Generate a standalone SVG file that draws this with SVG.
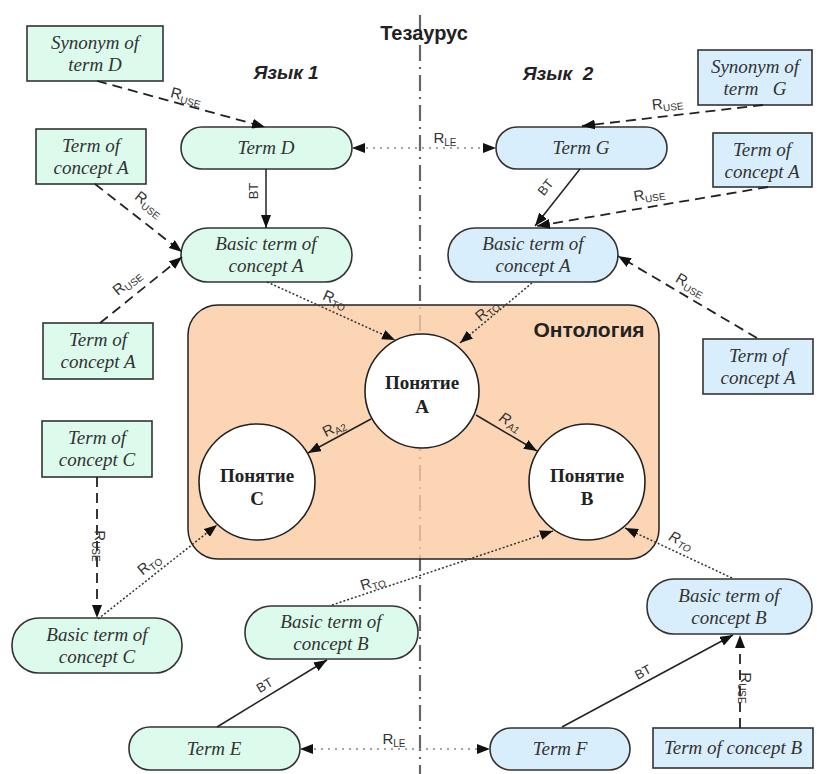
<svg xmlns="http://www.w3.org/2000/svg" width="817" height="774" viewBox="0 0 817 774">
<style>
.g{fill:#dcfbec;stroke:#333;stroke-width:1.6}
.b{fill:#d9eefc;stroke:#333;stroke-width:1.6}
.nt{font-family:"Liberation Serif",serif;font-style:italic;font-size:19px;fill:#333;text-anchor:middle}
.ct{font-family:"Liberation Serif",serif;font-weight:bold;font-size:19px;fill:#222;text-anchor:middle}
.circ{fill:#fff;stroke:#222;stroke-width:1.6}
.lbl{font-family:"Liberation Sans",sans-serif;font-size:15px;fill:#333;text-anchor:middle}
.sub{font-size:10px}
.bt{font-family:"Liberation Sans",sans-serif;font-size:13px;fill:#333;text-anchor:middle}
.title{font-family:"Liberation Sans",sans-serif;font-weight:bold;fill:#222;text-anchor:middle}
.solid{stroke:#222;stroke-width:1.5;fill:none;marker-end:url(#ah)}
.dash{stroke:#222;stroke-width:1.8;fill:none;stroke-dasharray:10 6;marker-end:url(#ah)}
.dot{stroke:#333;stroke-width:1.5;fill:none;stroke-dasharray:2 2;marker-end:url(#ah)}
.le{stroke:#888;stroke-width:1.6;fill:none;stroke-dasharray:2 5;marker-end:url(#ah);marker-start:url(#ahs)}
</style>
<defs>
<marker id="ah" markerUnits="userSpaceOnUse" markerWidth="13" markerHeight="10" refX="13" refY="5" orient="auto"><path d="M0,0 L13,5 L0,10 z" fill="#111"/></marker>
<marker id="ahs" markerUnits="userSpaceOnUse" markerWidth="13" markerHeight="10" refX="13" refY="5" orient="auto-start-reverse"><path d="M0,0 L13,5 L0,10 z" fill="#111"/></marker>
</defs>
<rect width="817" height="774" fill="#fff"/>

<line x1="420" y1="15" x2="420" y2="774" stroke="#666" stroke-width="2.2" stroke-dasharray="16 6 2 6"/>

<g id="ontology">
<rect x="188" y="305" width="471" height="254" rx="30" fill="#fbcca1" fill-opacity="0.8" stroke="#222" stroke-width="1.5"/>
<text class="title" x="589" y="337" font-size="21">Онтология</text>
</g>

<text class="title" x="424" y="40" font-size="20">Тезаурус</text>
<text class="title" x="286" y="79" font-size="19" font-style="italic">Язык 1</text>
<text class="title" x="558" y="80" font-size="19" font-style="italic" xml:space="preserve">Язык  2</text>

<g id="conceptA"><circle class="circ" cx="422" cy="391" r="57"/><text class="ct" x="422" y="389">Понятие</text><text class="ct" x="422" y="413">A</text></g>
<g id="conceptC"><circle class="circ" cx="257" cy="482" r="58"/><text class="ct" x="257" y="482">Понятие</text><text class="ct" x="257" y="505">C</text></g>
<g id="conceptB"><circle class="circ" cx="587" cy="482" r="58"/><text class="ct" x="587" y="482">Понятие</text><text class="ct" x="587" y="505">B</text></g>

<g id="synD"><rect class="g" x="27" y="26" width="136" height="55"/><text class="nt" x="95" y="49">Synonym of</text><text class="nt" x="95" y="71">term D</text></g>
<g id="termA1"><rect class="g" x="36" y="129" width="110" height="55"/><text class="nt" x="91" y="152">Term of</text><text class="nt" x="91" y="174">concept A</text></g>
<g id="termA2"><rect class="g" x="43" y="323" width="110" height="56"/><text class="nt" x="98" y="346">Term of</text><text class="nt" x="98" y="368">concept A</text></g>
<g id="termC"><rect class="g" x="42" y="421" width="110" height="56"/><text class="nt" x="97" y="444">Term of</text><text class="nt" x="97" y="466">concept C</text></g>
<g id="termD"><rect class="g" x="181" y="127" width="171" height="42" rx="21"/><text class="nt" x="266" y="154">Term D</text></g>
<g id="basicA1"><rect class="g" x="181" y="228" width="171" height="54" rx="27"/><text class="nt" x="266" y="250">Basic term of</text><text class="nt" x="266" y="272">concept A</text></g>
<g id="basicC"><rect class="g" x="12" y="618" width="170" height="55" rx="27"/><text class="nt" x="97" y="641">Basic term of</text><text class="nt" x="97" y="663">concept C</text></g>
<g id="basicB1"><rect class="g" x="245" y="606" width="173" height="53" rx="26"/><text class="nt" x="331" y="628">Basic term of</text><text class="nt" x="331" y="650">concept B</text></g>
<g id="termE"><rect class="g" x="129" y="727" width="171" height="43" rx="21"/><text class="nt" x="214" y="755">Term E</text></g>

<g id="synG"><rect class="b" x="698" y="50" width="114" height="55"/><text class="nt" x="755" y="73">Synonym of</text><text class="nt" x="755" y="95" xml:space="preserve">term   G</text></g>
<g id="termA3"><rect class="b" x="713" y="133" width="99" height="54"/><text class="nt" x="762" y="156">Term of</text><text class="nt" x="762" y="178">concept A</text></g>
<g id="termA4"><rect class="b" x="703" y="339" width="110" height="55"/><text class="nt" x="758" y="362">Term of</text><text class="nt" x="758" y="384">concept A</text></g>
<g id="termG"><rect class="b" x="496" y="127" width="171" height="42" rx="21"/><text class="nt" x="581" y="154">Term G</text></g>
<g id="basicA2"><rect class="b" x="448" y="228" width="170" height="54" rx="27"/><text class="nt" x="533" y="250">Basic term of</text><text class="nt" x="533" y="272">concept A</text></g>
<g id="basicB2"><rect class="b" x="647" y="579" width="165" height="55" rx="27"/><text class="nt" x="729" y="602">Basic term of</text><text class="nt" x="729" y="624">concept B</text></g>
<g id="termF"><rect class="b" x="490" y="728" width="140" height="42" rx="21"/><text class="nt" x="560" y="755">Term F</text></g>
<g id="termB"><rect class="b" x="653" y="728" width="160" height="40"/><text class="nt" x="733" y="754">Term of concept B</text></g>

<g id="connectors">
<line class="dash" x1="97" y1="81" x2="265" y2="127"/>
<line class="dash" x1="95" y1="184" x2="182" y2="252"/>
<line class="dash" x1="100" y1="323" x2="182" y2="257"/>
<line class="solid" x1="266" y1="169" x2="266" y2="228"/>
<line class="le" x1="352" y1="148" x2="496" y2="148"/>
<line class="dash" x1="763" y1="105" x2="582" y2="126"/>
<line class="solid" x1="580" y1="169" x2="535" y2="226"/>
<line class="dash" x1="768" y1="187" x2="537" y2="226"/>
<line class="dash" x1="757" y1="338" x2="618" y2="256"/>
<line class="dot" x1="267" y1="282" x2="395" y2="340"/>
<line class="dot" x1="532" y1="283" x2="460" y2="343"/>
<line class="solid" x1="476" y1="415" x2="537" y2="451"/>
<line class="solid" x1="371" y1="419" x2="308" y2="453"/>
<line class="dash" x1="97" y1="477" x2="97" y2="618"/>
<line class="dot" x1="98" y1="619" x2="217" y2="525"/>
<line class="dot" x1="332" y1="605" x2="553" y2="531"/>
<line class="dot" x1="732" y1="578" x2="625" y2="528"/>
<line class="solid" x1="217" y1="727" x2="327" y2="660"/>
<line class="solid" x1="562" y1="727" x2="733" y2="635"/>
<line class="le" x1="300" y1="749" x2="490" y2="749"/>
<line class="dash" x1="740" y1="728" x2="740" y2="635"/>

<text class="lbl" transform="translate(185,101) rotate(15)">R<tspan class="sub" dy="3">USE</tspan></text>
<text class="lbl" transform="translate(146,208) rotate(38)">R<tspan class="sub" dy="3">USE</tspan></text>
<text class="lbl" transform="translate(130,286) rotate(-39)">R<tspan class="sub" dy="3">USE</tspan></text>
<text class="bt" transform="translate(258,191) rotate(-90)">BT</text>
<text class="lbl" x="445" y="143">R<tspan class="sub" dy="3">LE</tspan></text>
<text class="lbl" transform="translate(668,108) rotate(-7)">R<tspan class="sub" dy="3">USE</tspan></text>
<text class="bt" transform="translate(549,190) rotate(-51)">BT</text>
<text class="lbl" transform="translate(650,199) rotate(-9.5)">R<tspan class="sub" dy="3">USE</tspan></text>
<text class="lbl" transform="translate(688,289) rotate(30)">R<tspan class="sub" dy="3">USE</tspan></text>
<text class="lbl" transform="translate(333,304) rotate(24)">R<tspan class="sub" dy="3">TO</tspan></text>
<text class="lbl" transform="translate(490,314) rotate(-40)">R<tspan class="sub" dy="3">TO</tspan></text>
<text class="lbl" font-style="italic" transform="translate(508,426) rotate(30)">R<tspan class="sub" dy="3">A1</tspan></text>
<text class="lbl" transform="translate(336,432) rotate(-27)">R<tspan class="sub" dy="3">A2</tspan></text>
<text class="lbl" transform="translate(95,546) rotate(90)">R<tspan class="sub" dy="3">USE</tspan></text>
<text class="lbl" transform="translate(152,568) rotate(-39)">R<tspan class="sub" dy="3">TO</tspan></text>
<text class="lbl" transform="translate(374,587) rotate(-18)">R<tspan class="sub" dy="3">TO</tspan></text>
<text class="lbl" font-style="italic" transform="translate(679,545) rotate(25)">R<tspan class="sub" dy="3">TO</tspan></text>
<text class="bt" transform="translate(267,689) rotate(-31)">BT</text>
<text class="bt" transform="translate(645,676) rotate(-28)">BT</text>
<text class="lbl" x="394" y="744">R<tspan class="sub" dy="3">LE</tspan></text>
<text class="lbl" transform="translate(741,688) rotate(90)">R<tspan class="sub" dy="3">USE</tspan></text>
</g>
</svg>
